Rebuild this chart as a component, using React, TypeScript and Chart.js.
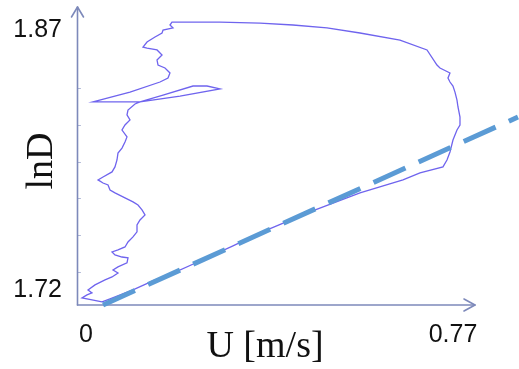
import React, { useEffect, useRef } from "react";
import { Chart, registerables } from "chart.js";

Chart.register(...registerables);

// Hysteresis loop: U [m/s] vs lnD (in traversal order)
const loopU = [
  0.0336, 0.0504, 0.0986, 0.1448, 0.1699, 0.2392, 0.3084, 0.3651, 0.47, 0.5749,
  0.6651, 0.7008, 0.749, 0.7574, 0.7637, 0.77, 0.7784, 0.7847, 0.7847, 0.7805,
  0.7784, 0.7742, 0.77, 0.7637, 0.7595, 0.7637, 0.7595, 0.7427, 0.7364, 0.7155,
  0.6588, 0.5749, 0.5056, 0.4343, 0.3651, 0.2811, 0.1804,
  0.1762, 0.1825, 0.1616, 0.1595, 0.1448, 0.128, 0.1196, 0.128, 0.149, 0.1595,
  0.149, 0.1511, 0.1657, 0.1762, 0.172, 0.1553, 0.0923, 0.0147,
  0.1133, 0.1616, 0.2245, 0.2539, 0.2811, 0.1972, 0.1133,
  0.1028, 0.0881, 0.086, 0.0923, 0.0818, 0.0755, 0.086, 0.0818, 0.0755, 0.0671,
  0.065, 0.0608, 0.0546, 0.0357, 0.0252, 0.0357, 0.0462, 0.0504, 0.0608, 0.0818,
  0.0986, 0.1091, 0.1175, 0.1238, 0.1133, 0.107, 0.107, 0.0986, 0.0881, 0.0818,
  0.0671, 0.0546, 0.0608, 0.0755, 0.0881, 0.086, 0.0671, 0.0567, 0.0671, 0.0546,
  0.0399, 0.0189, 0.0042, 0.0126, 0.0021, -0.0084, 0.0126, 0.0336,
];
const loopLnD = [
  1.7131, 1.7148, 1.72, 1.7258, 1.7281, 1.7367, 1.7454, 1.7529, 1.765, 1.776,
  1.7835, 1.7875, 1.791, 1.795, 1.7996, 1.8065, 1.8123, 1.8152, 1.8198, 1.8256,
  1.8296, 1.8342, 1.8377, 1.84, 1.8423, 1.8452, 1.8458, 1.8481, 1.8498, 1.8585,
  1.8642, 1.8683, 1.8712, 1.8729, 1.874, 1.8746, 1.8746,
  1.8729, 1.8712, 1.87, 1.8683, 1.866, 1.8631, 1.8602, 1.8596, 1.8585, 1.8556,
  1.8527, 1.8498, 1.8481, 1.8452, 1.8423, 1.84, 1.8342, 1.8285,
  1.8285, 1.8325, 1.8377, 1.8377, 1.836, 1.8319, 1.8285,
  1.8273, 1.8238, 1.8210, 1.8181, 1.8152, 1.8123, 1.8083, 1.8054, 1.8019, 1.799,
  1.795, 1.791, 1.7881, 1.7852, 1.7835, 1.7817, 1.7806, 1.7777, 1.776, 1.7731,
  1.7708, 1.769, 1.7662, 1.7633, 1.7604, 1.7575, 1.7535, 1.7506, 1.7477, 1.7448,
  1.7431, 1.7419, 1.7402, 1.739, 1.7385, 1.7356, 1.7333, 1.7315, 1.7298, 1.7275,
  1.7258, 1.7229, 1.72, 1.7183, 1.7171, 1.7154, 1.7142, 1.7131,
];

// Dashed trend line
const trendU = [0.0357, 0.9064];
const trendLnD = [1.7113, 1.8198];

// Axes
const xRange = [-0.0189, 0.8162];
const yRange = [1.7113, 1.8833];
const xTickValues = [0, 0.77];
const xTickLabels = ["0", "0.77"];
const yTickValues = [1.72, 1.87];
const yTickLabels = ["1.72", "1.87"];
const yMinorTicks = [1.7304, 1.7517, 1.7731, 1.7939, 1.8152, 1.8366];
const xAxisTitle = "U [m/s]";
const yAxisTitle = "lnD";

const AXIS_COLOR = "#7d89ba";

const axesPlugin = {
  id: "arrowAxes",
  beforeDatasetsDraw(chart: any) {
    const { ctx, chartArea } = chart;
    const { left, right, top, bottom } = chartArea;
    const yScale = chart.scales.y;
    ctx.save();
    ctx.strokeStyle = AXIS_COLOR;
    ctx.lineWidth = 1.6;
    ctx.lineCap = "round";
    ctx.lineJoin = "round";
    const ax = left + 0.5;
    const ay = bottom;
    // y axis
    ctx.beginPath();
    ctx.moveTo(ax, ay);
    ctx.lineTo(ax, top);
    ctx.stroke();
    ctx.beginPath();
    ctx.moveTo(ax - 6, top + 10);
    ctx.lineTo(ax, top);
    ctx.lineTo(ax + 6, top + 10);
    ctx.stroke();
    // x axis
    ctx.beginPath();
    ctx.moveTo(ax, ay);
    ctx.lineTo(right, ay);
    ctx.stroke();
    ctx.beginPath();
    ctx.moveTo(right - 11, ay - 6);
    ctx.lineTo(right, ay);
    ctx.lineTo(right - 11, ay + 6);
    ctx.stroke();
    // minor ticks on y axis
    ctx.lineWidth = 1;
    ctx.strokeStyle = "rgba(125,137,186,0.6)";
    for (const v of yMinorTicks) {
      const py = Math.round(yScale.getPixelForValue(v)) + 0.5;
      ctx.beginPath();
      ctx.moveTo(ax, py);
      ctx.lineTo(ax + 3, py);
      ctx.stroke();
    }
    ctx.restore();
  },
  afterDraw(chart: any) {
    const { ctx, chartArea } = chart;
    const { left, bottom } = chartArea;
    const xScale = chart.scales.x;
    const yScale = chart.scales.y;
    ctx.save();
    ctx.fillStyle = "#111111";
    ctx.font = "25px 'Liberation Sans', Arial, sans-serif";
    ctx.textBaseline = "middle";
    ctx.textAlign = "right";
    yTickValues.forEach((v, i) => {
      ctx.fillText(yTickLabels[i], left - 15, yScale.getPixelForValue(v));
    });
    ctx.textAlign = "center";
    xTickValues.forEach((v, i) => {
      ctx.fillText(xTickLabels[i], xScale.getPixelForValue(v), bottom + 30);
    });
    ctx.font = "38px 'Liberation Serif', 'Times New Roman', serif";
    ctx.textBaseline = "alphabetic";
    ctx.textAlign = "center";
    ctx.fillText(xAxisTitle, left + 188, bottom + 52);
    ctx.save();
    ctx.translate(left - 25, 161);
    ctx.rotate(-Math.PI / 2);
    ctx.fillText(yAxisTitle, 0, 0);
    ctx.restore();
    ctx.restore();
  },
};

export default function App() {
  const canvasRef = useRef<HTMLCanvasElement | null>(null);

  useEffect(() => {
    const canvas = canvasRef.current;
    if (!canvas) return;
    const loopData = loopU.map((u, i) => ({ x: u, y: loopLnD[i] }));
    const trendData = trendU.map((u, i) => ({ x: u, y: trendLnD[i] }));
    const chart = new Chart(canvas, {
      type: "scatter",
      data: {
        datasets: [
          {
            label: "trend",
            data: trendData,
            showLine: true,
            borderColor: "#5b9bd5",
            borderWidth: 5,
            borderDash: [35, 14.5],
            borderCapStyle: "butt",
            pointRadius: 0,
            clip: false,
            order: 0,
          } as any,
          {
            label: "loop",
            data: loopData,
            showLine: true,
            borderColor: "#6f64ee",
            borderWidth: 1.3,
            pointRadius: 0,
            tension: 0,
            clip: false,
            order: 1,
          } as any,
        ],
      },
      options: {
        animation: false,
        responsive: false,
        maintainAspectRatio: false,
        layout: { padding: { left: 77, right: 44, top: 7, bottom: 64 } },
        plugins: {
          legend: { display: false },
          tooltip: { enabled: false },
          title: { display: false },
        },
        scales: {
          x: { type: "linear", display: false, min: xRange[0], max: xRange[1] },
          y: { type: "linear", display: false, min: yRange[0], max: yRange[1] },
        },
      },
      plugins: [axesPlugin],
    });
    return () => chart.destroy();
  }, []);

  return (
    <div style={{ position: "fixed", left: 0, top: 0, width: 519, height: 369, background: "#ffffff" }}>
      <canvas ref={canvasRef} width={519} height={369} style={{ display: "block" }} />
    </div>
  );
}
